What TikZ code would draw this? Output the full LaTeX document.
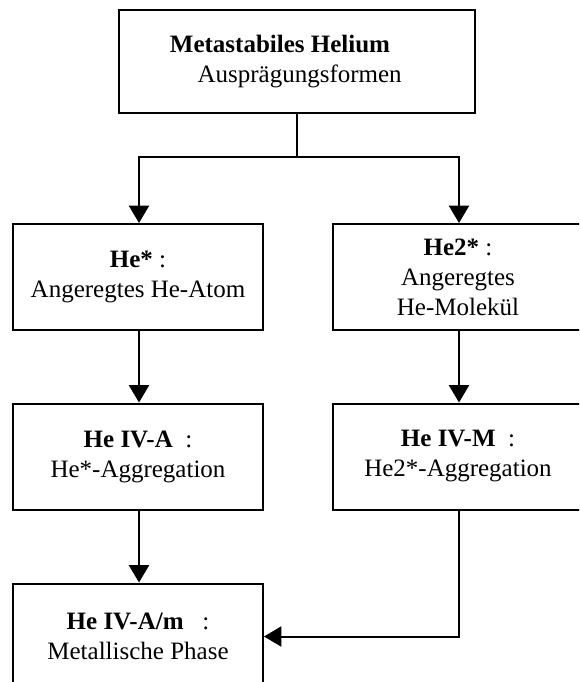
\documentclass[tikz,border=0pt]{standalone}
\usepackage{fontspec}
\setmainfont{Liberation Serif}
\usetikzlibrary{arrows.meta}
\tikzset{
  box/.style={draw, line width=1.5pt, minimum width=187.5pt, minimum height=79.5pt, align=center, inner sep=0pt, font=\fontsize{18.75pt}{22.5pt}\selectfont},
  lbl/.style={align=center, inner sep=0pt, font=\fontsize{18.75pt}{22.5pt}\selectfont},
  conn/.style={line width=1.5pt},
  arr/.style={line width=1.5pt, -{Triangle[width=15pt,length=13pt]}}
}
\begin{document}
\begin{tikzpicture}[x=0.75pt,y=-0.75pt]
\clip (0,0) rectangle (579,682);
\fill[white] (0,0) rectangle (579,682);
% top box
\node[box, minimum width=267pt, minimum height=77.25pt] (top) at (297,61.5) {};
\node[lbl] (toptxt) at (297,61.5) {\textbf{Metastabiles Helium}\hspace*{25.5pt}\\\hspace*{4pt}Ausprägungsformen};
% second row
\node[box] (he) at (138,277) {\textbf{He*}~:\\Angeregtes He-Atom};
\node[box] (hetwo) at (458,277) {\textbf{He2*}~:\\Angeregtes\\He-Molekül};
% third row
\node[box] (iva) at (138,456.5) {\textbf{He IV-A}~~:\\He*-Aggregation};
\node[box] (ivm) at (458,456.5) {\textbf{He IV-M}~~:\\He2*-Aggregation};
% bottom
\node[box] (ivam) at (138,636.5) {\textbf{He IV-A/m}~~~:\\Metallische Phase};
% connectors
\coordinate (j) at (297,157);
\draw[conn] (top.south) -- (j);
\draw[arr] (j) -| ([xshift=0.75pt]he.north);
\draw[arr] (j) -| ([xshift=0.75pt]hetwo.north);
\draw[arr] ([xshift=0.75pt]he.south) -- ([xshift=0.75pt]iva.north);
\draw[arr] ([xshift=0.75pt]hetwo.south) -- ([xshift=0.75pt]ivm.north);
\draw[arr] ([xshift=0.75pt]iva.south) -- ([xshift=0.75pt]ivam.north);
\draw[arr] ([xshift=0.75pt]ivm.south) |- (ivam.east);
\end{tikzpicture}
\end{document}
